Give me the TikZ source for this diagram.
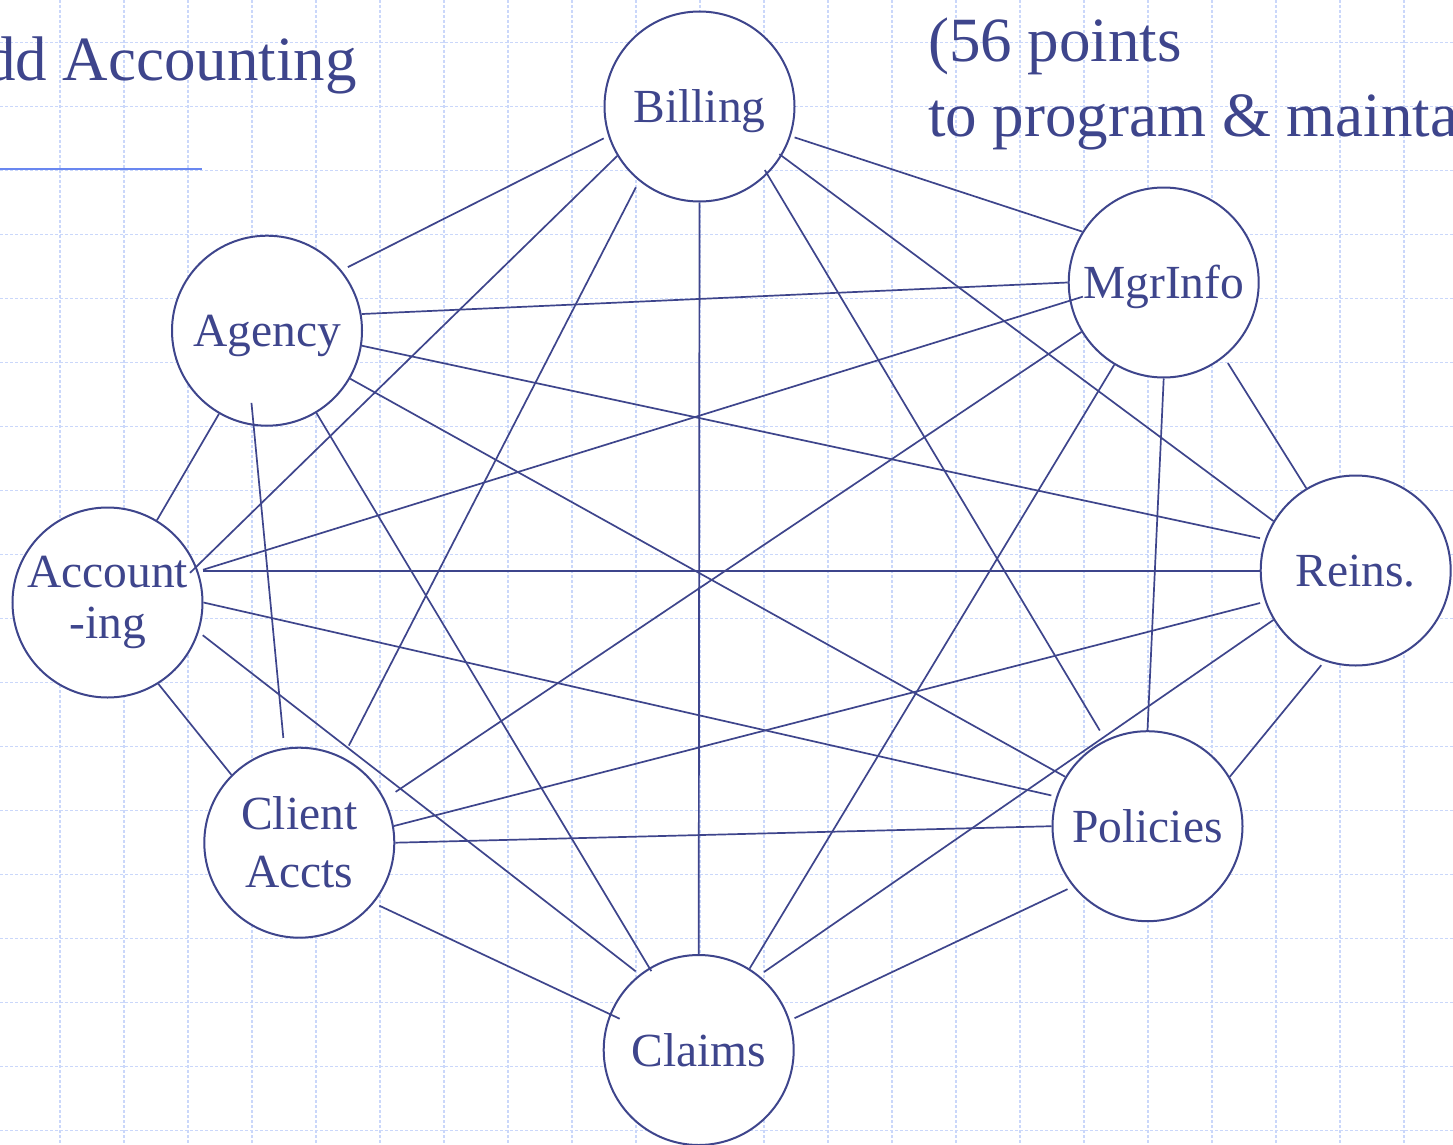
\documentclass[tikz,border=0pt]{standalone}
\usepackage{fontspec}
\setmainfont{Liberation Serif}
\definecolor{ink}{RGB}{62,69,140}
\definecolor{gridblue}{RGB}{202,215,250}
\definecolor{rulecol}{RGB}{105,135,240}
\begin{document}
\begin{tikzpicture}[x=1pt,y=1pt,
  topic/.style={circle,draw=ink,fill=white,line width=2pt,minimum size=190pt,
    inner sep=0pt,text=ink,font=\fontsize{47.5}{58}\selectfont},
  oneline/.style={text height=42pt,text depth=10pt},
  link/.style={draw=ink,line width=1.7pt},
  gridline/.style={draw=gridblue,line width=1.4pt,dash pattern=on 3pt off 2pt},
  heading/.style={text=ink,font=\fontsize{63}{75}\selectfont,inner sep=0pt,anchor=base west}]
\useasboundingbox (0,0) rectangle (1453,-1145);
\fill[white] (0,0) rectangle (1453,-1145);
\clip (0,0) rectangle (1453,-1145);

% squared paper
\foreach \gx in {0,...,21}
  \draw[gridline] ({60+64*\gx},0) -- ({60+64*\gx},-1145);
\foreach \gy in {0,...,17}
  \draw[gridline] (0,{-42.7-64*\gy}) -- (1453,{-42.7-64*\gy});

% headings
\node[heading] (title) at (-16,-81) {dd Accounting};
\draw[rulecol,line width=2pt] (0,-169) -- (202,-169);
\node[heading] (cost1) at (928,-62) {(56 points};
\node[heading] (cost2) at (928,-137) {to program \& mainta};

% systems
\node[topic,oneline] (bill)   at (699.5,-106.5) {Billing};
\node[topic,oneline] (agency) at (267,-330.7)   {Agency};
\node[topic,oneline] (mgr)    at (1163.7,-282.5) {MgrInfo};
\node[topic,align=center] (acct) at (107.5,-602.5) {Account\\[-7pt]-ing};
\node[topic,oneline] (reins)  at (1355.7,-570.5) {Reins.};
\node[topic,align=center] (client) at (299.3,-842.7) {Client\\Accts};
\node[topic,oneline] (pol)    at (1147.5,-826.2) {Policies};
\node[topic,oneline] (claims) at (698.7,-1050)  {Claims};

% point-to-point interfaces
\draw[link,shorten <=5pt,shorten >=7pt] (bill.198) -- (agency.39);
\draw[link,shorten >=-9pt] (bill.211) -- (acct.22);
\draw[link,shorten <=7pt,shorten >=13pt] (bill.231) -- (client.63);
\draw[link] (bill.270) -- (claims.90);
\draw[link,shorten <=-5pt,shorten >=11pt] (bill.315) -- (pol.116);
\draw[link,shorten <=-3pt] (bill.329) -- (reins.149);
\draw[link,shorten <=4pt] (bill.342) -- (mgr.148);

\draw[link] (agency.10) -- (mgr.180);
\draw[link,shorten >=5pt] (agency.351) -- (reins.161);
\draw[link] (agency.330) -- (pol.149);
\draw[link,shorten >=-4pt] (agency.301) -- (claims.121);
\draw[link,shorten <=-23pt,shorten >=10pt] (agency.262) -- (client.99);
\draw[link] (agency.240) -- (acct.59);

\draw[link,shorten <=-14pt,shorten >=5pt] (mgr.191) -- (acct.19);
\draw[link,shorten >=13pt] (mgr.211) -- (client.27);
\draw[link] (mgr.239) -- (claims.58);
\draw[link] (mgr.270) -- (pol.90);
\draw[link,shorten <=7pt] (mgr.309) -- (reins.121);

\draw[link,shorten <=5pt] (acct.19) -- (acct.19 -| reins.west);
\draw[link,shorten <=5pt] (reins.199) -- (client.10);
\draw[link,shorten >=6pt] (reins.211) -- (claims.51);
\draw[link,shorten <=5pt] (reins.251) -- (pol.31);

\draw[link,shorten >=5pt] (acct.0) -- (pol.162);
\draw[link,shorten <=5pt,shorten >=5pt] (acct.342) -- (claims.128);
\draw[link] (acct.302) -- (client.135);

\draw[link] (client.0) -- (pol.180);
\draw[link,shorten <=6pt,shorten >=-11pt] (client.321) -- (claims.158);
\draw[link,shorten <=6pt,shorten >=5pt] (pol.219) -- (claims.18);
\end{tikzpicture}
\end{document}
